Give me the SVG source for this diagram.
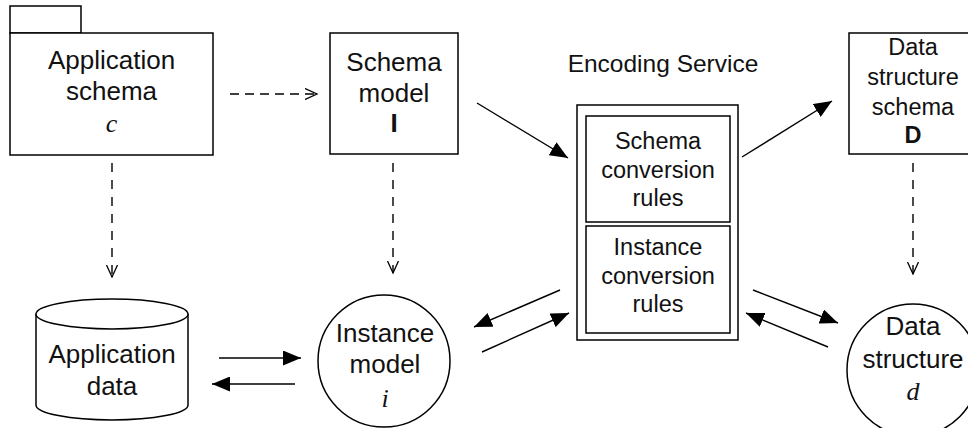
<svg xmlns="http://www.w3.org/2000/svg" width="968" height="428" viewBox="0 0 968 428">
<defs>
<style>
.box{fill:#fff;stroke:#000;stroke-width:1.5}
.t{font-family:"Liberation Sans",Arial,sans-serif;font-size:26px;text-anchor:middle;fill:#111}
.ts{font-family:"Liberation Sans",Arial,sans-serif;font-size:23.5px;text-anchor:middle;fill:#111}
.it{font-family:"Liberation Serif","Times New Roman",serif;font-style:italic;font-size:26px;text-anchor:middle;fill:#111}
.b{font-weight:bold}
.ln{stroke:#000;stroke-width:1.4;fill:none}
.sol{marker-end:url(#arr)}
.dh{stroke-dasharray:9 6;marker-end:url(#open)}
.dv{stroke-dasharray:9 8;marker-end:url(#open)}
</style>
<marker id="arr" markerUnits="userSpaceOnUse" markerWidth="19" markerHeight="15" refX="18" refY="7.5" orient="auto" viewBox="0 0 19 15">
<path d="M0,0 L18,7.5 L0,15 z" fill="#000"/>
</marker>
<marker id="open" markerUnits="userSpaceOnUse" markerWidth="14" markerHeight="12" refX="12" refY="6" orient="auto" viewBox="0 0 14 12">
<path d="M0,0.5 L12,6 L0,11.5" fill="none" stroke="#000" stroke-width="1.3"/>
</marker>
</defs>
<rect width="968" height="428" fill="#fff"/>

<g id="connectors">
<line class="ln dh" x1="230" y1="94" x2="317" y2="94"/>
<line class="ln dv" x1="112" y1="163" x2="112" y2="277"/>
<line class="ln dv" x1="393" y1="163" x2="393" y2="273"/>
<line class="ln dv" x1="913" y1="163" x2="913" y2="274"/>
<line class="ln sol" x1="477" y1="103" x2="568" y2="158"/>
<line class="ln sol" x1="742" y1="157" x2="832" y2="101"/>
<line class="ln sol" x1="560" y1="290" x2="474" y2="327"/>
<line class="ln sol" x1="482" y1="352" x2="569" y2="313"/>
<line class="ln sol" x1="753" y1="290" x2="838" y2="323"/>
<line class="ln sol" x1="828" y1="347" x2="746" y2="313"/>
<line class="ln sol" x1="219" y1="358" x2="301" y2="358"/>
<line class="ln sol" x1="295" y1="384" x2="212" y2="384"/>
</g>

<g id="application-schema">
<rect class="box" x="10" y="6" width="71" height="27"/>
<rect class="box" x="10" y="33" width="203" height="122"/>
<text class="t" x="111.5" y="69">Application</text>
<text class="t" x="111.5" y="100">schema</text>
<text class="it" x="111.5" y="132">c</text>
</g>

<g id="schema-model">
<rect class="box" x="330" y="33" width="128" height="121"/>
<text class="t" x="394" y="71">Schema</text>
<text class="t" x="394" y="102">model</text>
<text class="t b" x="394" y="132">I</text>
</g>

<g id="encoding-service">
<text class="ts" x="663" y="72" style="font-size:24.5px">Encoding Service</text>
<rect class="box" x="577" y="105" width="161" height="235"/>
<rect class="box" x="586" y="116" width="144" height="106"/>
<rect class="box" x="586" y="226" width="144" height="107"/>
<text class="ts" x="658" y="149">Schema</text>
<text class="ts" x="658" y="178">conversion</text>
<text class="ts" x="658" y="206">rules</text>
<text class="ts" x="658" y="255">Instance</text>
<text class="ts" x="658" y="284">conversion</text>
<text class="ts" x="658" y="312">rules</text>
</g>

<g id="data-structure-schema">
<rect class="box" x="849" y="33" width="125" height="121"/>
<text class="ts" x="913" y="55">Data</text>
<text class="ts" x="913" y="85">structure</text>
<text class="ts" x="913" y="115">schema</text>
<text class="ts b" x="913" y="143">D</text>
</g>

<g id="application-data">
<path class="box" d="M36,314 L36,405 A76,15 0 0 0 188,405 L188,314 A76,15 0 0 0 36,314 z"/>
<path class="box" d="M36,314 A76,15 0 0 0 188,314" fill="none"/>
<text class="t" x="112" y="363">Application</text>
<text class="t" x="112" y="395">data</text>
</g>

<g id="instance-model">
<circle class="box" cx="384" cy="361" r="66"/>
<text class="t" x="385" y="342">Instance</text>
<text class="t" x="385" y="373">model</text>
<text class="it" x="385" y="407">i</text>
</g>

<g id="data-structure">
<circle class="box" cx="913" cy="370" r="66"/>
<text class="t" x="913" y="335">Data</text>
<text class="t" x="913" y="368">structure</text>
<text class="it" x="913" y="400">d</text>
</g>
</svg>
